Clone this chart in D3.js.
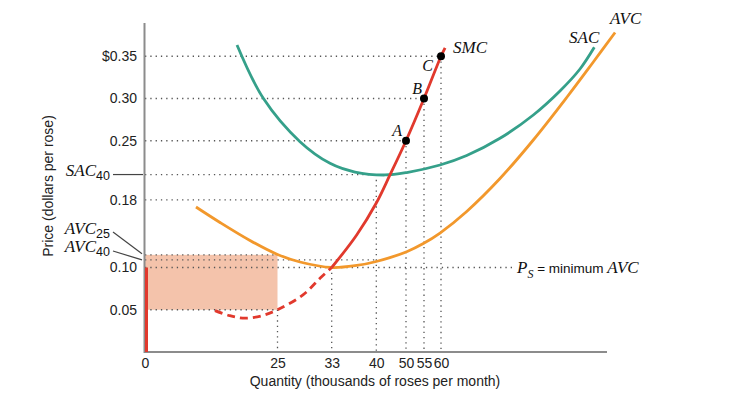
<!DOCTYPE html>
<html><head><meta charset="utf-8">
<script src="https://cdn.jsdelivr.net/npm/d3@7"></script>
<style>body{margin:0;background:#fff} svg{display:block}</style>
</head><body><svg id="c" width="743" height="397"></svg>
<script>
// ---- data ----
const qTicks = [0, 25, 33, 40, 50, 55, 60];
const pTicks = [0.35, 0.30, 0.25, 0.18, 0.10, 0.05];
const pTickLabels = ["$0.35", "0.30", "0.25", "0.18", "0.10", "0.05"];
const sacQ = [17.36, 22.32, 28.32, 32.75, 36.66, 42.93, 50.19, 59.71, 67.56, 77.35, 87.15, 94.99, 100.88, 105.09];
const sacP = [0.3633, 0.3002, 0.2489, 0.2233, 0.2130, 0.2095, 0.2124, 0.2213, 0.2325, 0.2529, 0.2805, 0.3089, 0.3349, 0.3606];
const avcQ = [9.62, 14.15, 19.81, 25, 28.32, 33, 36.92, 40, 50.19, 54.81, 59.71, 67.56, 77.35, 87.15, 96.97, 104.8, 111.2];
const avcP = [0.1716, 0.1533, 0.1320, 0.1154, 0.1065, 0.1000, 0.1024, 0.1071, 0.1187, 0.1284, 0.1408, 0.1663, 0.2053, 0.2509, 0.3012, 0.3432, 0.3781];
const smcQ = [13.2, 16, 18.9, 22.1, 25, 28.76, 31.27, 33, 36.92, 40, 44.6, 50, 55, 60, 61.2];
const smcP = [0.049, 0.043, 0.040, 0.043, 0.05, 0.0675, 0.0872, 0.10, 0.1385, 0.1763, 0.2095, 0.25, 0.30, 0.35, 0.36];
const pointNames = ["A", "B", "C"];
const pointQ = [50, 55, 60];
const pointP = [0.25, 0.30, 0.35];
const shutdownQ = 33;          // SMC dashed below this output
const lossQ = 25, lossTop = 0.115, lossBottom = 0.05;
const sac40 = 0.21, avc25 = 0.115, avc40 = 0.109, minAVC = 0.10, smc40 = 0.18;

// ---- layout ----
const svg = d3.select("#c");
const x = d3.scaleLinear()
  .domain([0, 25, 33, 40, 50, 55, 60, 115])
  .range([145, 277.5, 331.7, 376.3, 406, 424, 441, 628]);
const y = d3.scaleLinear().domain([0, 0.35]).range([352, 56.25]);
const SANS = "'Liberation Sans', Arial, Helvetica, sans-serif";
const SERIF = "'Liberation Serif', 'Times New Roman', serif";
const RED = "#e1392d", TEAL = "#35a08a", ORANGE = "#f2982c";

// shaded loss rectangle
svg.append("rect")
  .attr("x", x(0)).attr("y", y(lossTop))
  .attr("width", x(lossQ) - x(0)).attr("height", y(lossBottom) - y(lossTop))
  .attr("fill", "#f4c3ab");

// dotted guides
const dot = {stroke: "#555", "stroke-width": 1.3, "stroke-dasharray": "1.3,4"};
const hGuides = [[0.35, 60], [0.30, 55], [0.25, 50], [sac40, 40], [smc40, 40], [avc25, 25], [avc40, 40], [minAVC, 81.2], [lossBottom, 25]];
hGuides.forEach(([p, q]) => {
  const l = svg.append("line").attr("x1", x(0)).attr("x2", x(q)).attr("y1", y(p)).attr("y2", y(p));
  Object.entries(dot).forEach(([k, v]) => l.attr(k, v));
});
const vGuides = [[25, lossBottom], [33, minAVC], [40, sac40], [50, 0.25], [55, 0.30], [60, 0.35]];
vGuides.forEach(([q, p]) => {
  const l = svg.append("line").attr("x1", x(q)).attr("x2", x(q)).attr("y1", y(p)).attr("y2", y(0));
  Object.entries(dot).forEach(([k, v]) => l.attr(k, v));
});

// axes
svg.append("line").attr("x1", 144.5).attr("x2", 144.5).attr("y1", 23).attr("y2", 353)
  .attr("stroke", "#8c8c8c").attr("stroke-width", 2);
svg.append("line").attr("x1", 144).attr("x2", 607).attr("y1", 352).attr("y2", 352)
  .attr("stroke", "#8c8c8c").attr("stroke-width", 2);

const yAxis = d3.axisLeft(y).tickValues(pTicks).tickSize(0).tickPadding(0)
  .tickFormat((d, i) => pTickLabels[i]);
const gy = svg.append("g").attr("transform", "translate(137,0)").call(yAxis);
gy.select(".domain").remove();
gy.selectAll("text").attr("font-family", SANS).attr("font-size", 14).attr("fill", "#222");

const xAxis = d3.axisBottom(x).tickValues(qTicks).tickSize(0).tickPadding(0);
const gx = svg.append("g").attr("transform", "translate(0,358)").call(xAxis);
gx.select(".domain").remove();
gx.selectAll("text").attr("font-family", SANS).attr("font-size", 14).attr("fill", "#222");

svg.append("text").attr("x", 375).attr("y", 386).attr("text-anchor", "middle")
  .attr("font-family", SANS).attr("font-size", 14).attr("fill", "#222")
  .text("Quantity (thousands of roses per month)");
svg.append("text").attr("transform", "translate(53,186) rotate(-90)").attr("text-anchor", "middle")
  .attr("font-family", SANS).attr("font-size", 14).attr("fill", "#222")
  .text("Price (dollars per rose)");

// curves
const line = d3.line().x(d => x(d[0])).y(d => y(d[1])).curve(d3.curveCatmullRom.alpha(0.5));
const zip = (a, b) => a.map((v, i) => [v, b[i]]);
svg.append("path").attr("d", line(zip(sacQ, sacP))).attr("fill", "none")
  .attr("stroke", TEAL).attr("stroke-width", 2.8);
svg.append("path").attr("d", line(zip(avcQ, avcP))).attr("fill", "none")
  .attr("stroke", ORANGE).attr("stroke-width", 2.8);
const smc = zip(smcQ, smcP);
svg.append("path").attr("d", line(smc.filter(d => d[0] <= shutdownQ))).attr("fill", "none")
  .attr("stroke", RED).attr("stroke-width", 2.8).attr("stroke-dasharray", "8,5");
svg.append("path").attr("d", line(smc.filter(d => d[0] >= shutdownQ))).attr("fill", "none")
  .attr("stroke", RED).attr("stroke-width", 2.8);
// vertical supply segment at zero output
svg.append("line").attr("x1", x(0) + 1.5).attr("x2", x(0) + 1.5).attr("y1", y(0)).attr("y2", y(minAVC))
  .attr("stroke", RED).attr("stroke-width", 3);

// points A, B, C
const labelOff = [[-4, -5], [-2, -5], [-8, 15]];
pointQ.forEach((q, i) => {
  svg.append("circle").attr("cx", x(q)).attr("cy", y(pointP[i])).attr("r", 4).attr("fill", "#000");
  svg.append("text").attr("x", x(q) + labelOff[i][0]).attr("y", y(pointP[i]) + labelOff[i][1])
    .attr("text-anchor", "end").attr("font-family", SERIF).attr("font-style", "italic")
    .attr("font-size", 16).attr("fill", "#111").text(pointNames[i]);
});

// curve labels
const lab = (tx, ty, t, anchor) => svg.append("text").attr("x", tx).attr("y", ty)
  .attr("text-anchor", anchor).attr("font-family", SERIF).attr("font-style", "italic")
  .attr("font-size", 17).attr("fill", "#111").text(t);
lab(x(smcQ[smcQ.length - 1]) + 8, y(smcP[smcP.length - 1]) + 5, "SMC", "start");
lab(x(sacQ[sacQ.length - 1]) + 5, y(sacP[sacP.length - 1]) - 4, "SAC", "end");
lab(x(avcQ[avcQ.length - 1]) - 5, y(avcP[avcP.length - 1]) - 9, "AVC", "start");

// P_S = minimum AVC
const ps = svg.append("text").attr("x", x(81.2) + 4).attr("y", y(minAVC) + 5).attr("fill", "#111");
ps.append("tspan").attr("font-family", SERIF).attr("font-style", "italic").attr("font-size", 17).text("P");
ps.append("tspan").attr("font-family", SERIF).attr("font-style", "italic").attr("font-size", 12).attr("dy", 5).text("S");
ps.append("tspan").attr("font-family", SANS).attr("font-size", 13.5).attr("dy", -5).text(" = minimum ");
ps.append("tspan").attr("font-family", SERIF).attr("font-style", "italic").attr("font-size", 17).text("AVC");

// left annotations with leaders
const leftLab = (ty, main, sub) => {
  const t = svg.append("text").attr("x", 110).attr("y", ty).attr("text-anchor", "end").attr("fill", "#111");
  t.append("tspan").attr("font-family", SERIF).attr("font-style", "italic").attr("font-size", 17).text(main);
  t.append("tspan").attr("font-family", SANS).attr("font-size", 12.5).attr("dy", 4).text(sub);
};
leftLab(y(sac40) + 1.5, "SAC", "40");
leftLab(234, "AVC", "25");
leftLab(252, "AVC", "40");
svg.append("line").attr("x1", 113).attr("x2", 143).attr("y1", y(sac40)).attr("y2", y(sac40))
  .attr("stroke", "#444").attr("stroke-width", 1.2);
svg.append("line").attr("x1", 113).attr("x2", 142).attr("y1", 232).attr("y2", y(avc25) - 1)
  .attr("stroke", "#444").attr("stroke-width", 1.2);
svg.append("line").attr("x1", 113).attr("x2", 142).attr("y1", 251).attr("y2", y(avc40))
  .attr("stroke", "#444").attr("stroke-width", 1.2);
</script></body></html>
